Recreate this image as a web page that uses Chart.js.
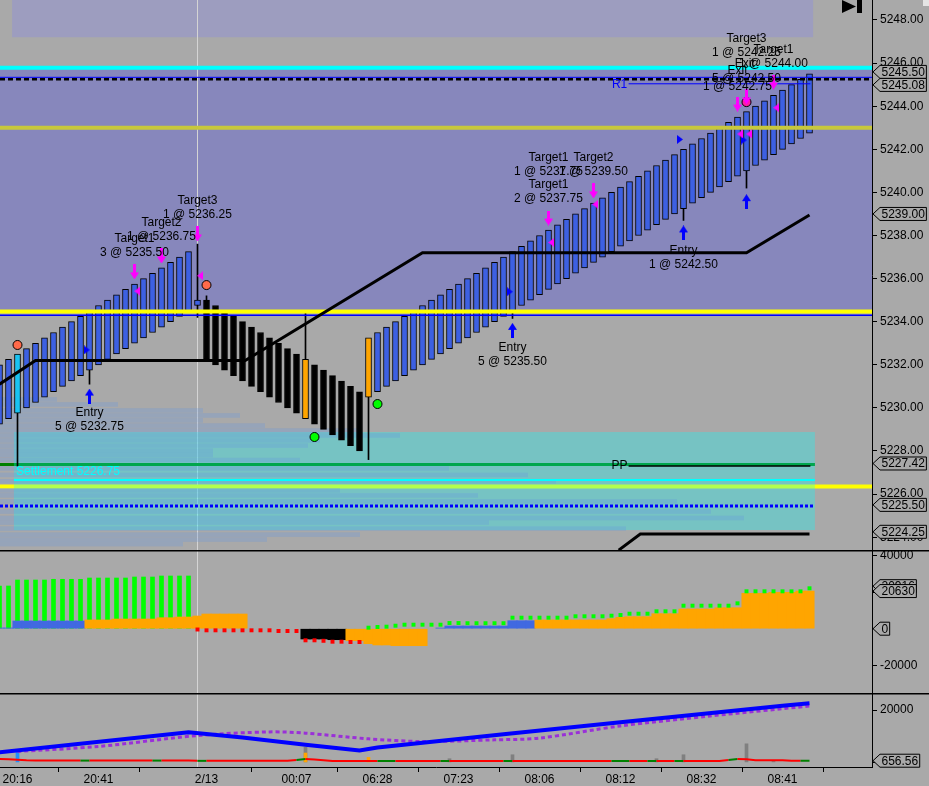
<!DOCTYPE html>
<html>
<head>
<meta charset="utf-8">
<script src="https://cdn.jsdelivr.net/npm/chart.js@4.4.1/dist/chart.umd.min.js"></script>
<style>
  html, body { margin: 0; padding: 0; background: #a9a9a9; }
  #wrap { position: relative; width: 929px; height: 786px; overflow: hidden; }
  canvas { position: absolute; left: 0; }
</style>
</head>
<body>
<div id="wrap">
  <canvas id="price" width="929" height="550" style="top:0"></canvas>
  <canvas id="osc" width="929" height="147" style="top:546px"></canvas>
  <canvas id="lower" width="929" height="93" style="top:693px"></canvas>
</div>
<script>
// bar -1 is the one cut off at the left edge
const firstBar = -1;

// body top / bottom of each bar
const barTop = [
  5232.00, 5232.25, 5232.50, 5232.75, 5233.00, 5233.25, 5233.50, 5233.75, 5234.00, 5234.25, 5234.50,
  5234.75, 5235.00, 5235.25, 5235.50, 5235.75, 5236.00, 5236.25, 5236.50, 5236.75, 5237.00, 5237.25,
  5235.00,
  5235.00, 5234.75, 5234.50, 5234.25, 5234.00, 5233.75, 5233.50, 5233.25, 5233.00, 5232.75, 5232.50,
  5232.25, 5232.00, 5231.75, 5231.50, 5231.25, 5231.00, 5230.75,
  5233.25, 5233.50, 5233.75, 5234.00, 5234.25, 5234.50, 5234.75, 5235.00, 5235.25, 5235.50,
  5235.75, 5236.00, 5236.25, 5236.50, 5236.75, 5237.00, 5237.25, 5237.50, 5237.75, 5238.00,
  5238.25, 5238.50, 5238.75, 5239.00, 5239.25, 5239.50, 5239.75, 5240.00, 5240.25, 5240.50,
  5240.75, 5241.00, 5241.25, 5241.50, 5241.75, 5242.00, 5242.25, 5242.50, 5242.75, 5243.00,
  5243.25, 5243.50, 5243.75, 5244.00, 5244.25, 5244.50, 5244.75, 5245.00, 5245.25, 5245.50
];
const barBottom = [
  5229.25, 5229.50, 5229.75, 5230.00, 5230.25, 5230.50, 5230.75, 5231.00, 5231.25, 5231.50, 5231.75,
  5232.00, 5232.25, 5232.50, 5232.75, 5233.00, 5233.25, 5233.50, 5233.75, 5234.00, 5234.25, 5234.50,
  5234.75,
  5232.25, 5232.00, 5231.75, 5231.50, 5231.25, 5231.00, 5230.75, 5230.50, 5230.25, 5230.00, 5229.75,
  5229.50, 5229.25, 5229.00, 5228.75, 5228.50, 5228.25, 5228.00,
  5230.50, 5230.75, 5231.00, 5231.25, 5231.50, 5231.75, 5232.00, 5232.25, 5232.50, 5232.75,
  5233.00, 5233.25, 5233.50, 5233.75, 5234.00, 5234.25, 5234.50, 5234.75, 5235.00, 5235.25,
  5235.50, 5235.75, 5236.00, 5236.25, 5236.50, 5236.75, 5237.00, 5237.25, 5237.50, 5237.75,
  5238.00, 5238.25, 5238.50, 5238.75, 5239.00, 5239.25, 5239.50, 5239.75, 5240.00, 5240.25,
  5240.50, 5240.75, 5241.00, 5241.25, 5241.50, 5241.75, 5242.00, 5242.25, 5242.50, 5242.75
];
// u = up, c = cyan, d = down, o = orange
const barKind = 'uuc uuuuuuuuuu uuuuuuuuuu ddddddddddd o dddddd o uuuuuuuuuu uuuuuuuuuu uuuuuuuuuu uuuuuuuuuu uuuuuuuuu'
  .replace(/ /g, '').split('');

const wickBars = [1, 9, 21, 22, 33, 40, 56, 75, 82];
const wickLow  = [5227.30, 5231.10, 5234.20, 5235.00, 5232.25, 5227.60, 5234.15, 5238.70, 5240.20];
const wickHigh = [5229.75, 5231.75, 5237.60, 5235.20, 5234.50, 5230.50, 5234.50, 5239.25, 5241.00];

// trailing stop line
const trailBars   = [-1, 3, 26.3, 46, 82, 89];
const trailPrices = [5231.10, 5232.20, 5232.20, 5237.20, 5237.20, 5238.95];
const lowLineBars   = [67.8, 70.2, 89];
const lowLinePrices = [5223.40, 5224.15, 5224.15];

// trade markers
const redDotBars = [1, 22], redDotPrices = [5232.92, 5235.70];
const greenDotBars = [34, 41], greenDotPrices = [5228.65, 5230.18];
const pinkDotBars = [82], pinkDotPrices = [5244.19];
const exitArrowBars   = [14, 17, 21, 60, 65, 81, 82, 85];
const exitArrowPrices = [5236.31, 5237.05, 5238.07, 5238.81, 5240.07, 5244.10, 5244.43, 5245.12];
const exitTickBars    = [14.3, 21.3, 60.3, 65.2, 81.3, 82.3, 85.3];
const exitTickPrices  = [5235.42, 5236.13, 5237.68, 5239.45, 5242.71, 5242.71, 5243.93];
const entryTickBars   = [8.7, 55.7, 74.6, 81.7];
const entryTickPrices = [5232.69, 5235.39, 5242.46, 5242.43];
const entryArrowBars  = [9, 56, 75, 82];
const entryArrowPrices = [5230.55, 5233.60, 5238.12, 5239.57];

const noteBars = [9, 9, 14, 14, 17, 17, 21, 21, 56, 56, 60, 60, 65, 65, 60, 60, 75, 75, 82, 82, 85, 85, 81.8, 81, 82, 81];
const notePrices = [5229.76, 5229.11, 5237.84, 5237.19, 5238.58, 5237.93, 5239.60, 5238.95, 5232.78, 5232.13,
  5241.60, 5240.95, 5241.60, 5240.95, 5240.34, 5239.69, 5237.28, 5236.63, 5247.12, 5246.47,
  5246.61, 5245.96, 5245.96, 5245.63, 5245.26, 5244.89];
const noteTexts = ['Entry', '5 @ 5232.75', 'Target1', '3 @ 5235.50', 'Target2', '1 @ 5236.75', 'Target3', '1 @ 5236.25',
  'Entry', '5 @ 5235.50', 'Target1', '1 @ 5237.75', 'Target2', '1 @ 5239.50', 'Target1', '2 @ 5237.75',
  'Entry', '1 @ 5242.50', 'Target3', '1 @ 5242.25', 'Target1', '1 @ 5244.00', 'Exit', 'Exit', '5 @ 5242.50', '1 @ 5242.75'];

// levels
const zoneHigh = 5245.78, zoneLow = 5234.47;
const topBoxLow = 5247.20;
const upperLevels = [5245.78, 5245.34, 5245.25, 5243.00, 5234.47, 5234.30];
const lowerLevels = [5227.37, 5226.65, 5226.35, 5225.45];
const pivotR1 = 5245.04, pivotPP = 5227.30, settlement = 5226.75;
const valueAreaHigh = 5228.88, valueAreaLow = 5224.33;

// volume profile rows
const vpPrice = [5230.39, 5230.16, 5229.88, 5229.65, 5229.42, 5229.18, 5228.95, 5228.72, 5228.49, 5228.25,
  5228.02, 5227.81, 5227.58, 5227.19, 5226.89, 5226.59, 5226.17, 5225.94, 5225.66, 5225.19,
  5224.89, 5224.68, 5224.40, 5224.12, 5223.89, 5223.68];
const vpVolume = [57, 118, 203, 240, 203, 265, 357, 400, 320, 308,
  213, 213, 300, 449, 528, 556, 340, 478, 677, 711,
  744, 489, 626, 360, 267, 183];

const priceTicks = [5224, 5226, 5228, 5230, 5232, 5234, 5236, 5238, 5240, 5242, 5244, 5246, 5248];
const priceMarks = [5245.50, 5245.08, 5239.00, 5227.42, 5225.50, 5224.25];

// oscillator panel
const fillValues = [
  400, 400, 4220, 4220, 4220, 4220, 4220, 4220, 4220, 4220,
  4770, 4770, 4770, 5300, 5300, 5300, 5300, 5300, 6030, 6030, 6410, 6410, 6960, 8050, 8050, 8050, 8050, 8050,
  null, null, null, null, null, null,
  -5640, -5640, -5640, -6030, -6030,
  -6580, -6580, -8220, -8930, -8930, -9320, -9320, -9320, -9320,
  null,
  380, 1480, 1480, 1480, 1480, 1480, 1480, 1480, 4380, 4380, 4380,
  4770, 4770, 4770, 4770, 4770, 4770, 4770, 4770, 5480, 6250, 6580, 6580, 6580, 8220, 8220, 8220,
  10790, 10790, 10790, 10790, 11500, 11500, 11500, 19400, 19400, 19400, 19950, 19950, 19950, 20630, 20630
];
const fillKind = 'bbbbbbbbbb oooooooooo oooooooo ------ kkkkk ooooooooo - bbbbbbbbbb b oooooooooo oooooooooo oooooooooo o'
  .replace(/ /g, '').split('');
const histValues = [23400, 23400, 26680, 26680, 26680, 26680, 27070, 27070, 27070, 27070,
  27780, 27780, 27780, 27780, 27780, 28330, 28330, 28330, 28880, 28880, 28880, 28880];
const dotValues = [
  null, null, null, null, null, null, null, null, null, null, null,
  null, null, null, null, null, null, null, null, null, null, null,
  -440, -880, -880, -880, -880, -880, -880, -880, -880, -1260, -1260, -1260,
  -6360, -6360, -6630, -7120, -7120, -7290, -7290,
  550, 930, 1100, 1640, 2190, 2190, 2190, 2190, 2190,
  3100, 3100, 3000, 3000, 3000, 3000, 3000,
  6030, 6030, 6030, 6030, 6030, 6030, 6030, 6800, 6800, 6800, 6800, 7120, 7500,
  8220, 8220, 8220, 9530, 9530, 9530, 12600, 12600, 12600, 12600, 12600, 12600, 13900,
  20490, 20490, 20490, 20490, 20490, 20490, 20490, 22140
];
const oscTicks = [40000, 20000, 0, -20000];
const oscMarks = [23300, 20630, 0];
const oscMarkTexts = ['20916', '20630', '0'];

// lower panel
const blueBars = [-1, 20, 26, 33, 39, 41, 55, 68, 86, 89];
const blueValues = [3900, 11540, 9490, 6720, 4560, 5700, 10780, 15330, 21630, 22540];
const purpleBars = [1, 10, 21, 29, 33, 40, 46, 54, 59, 68, 78, 89];
const purpleValues = [4180, 6080, 10250, 11650, 11160, 9000, 7980, 8620, 9270, 13930, 17720, 21520];
const redLine = [
  1300, 1200, 1000, 800,
  700, 700, 700, 700, 700, 700, 700, 700, 700, 700, 700, 700, 700, 700, 700, 700, 700, 700,
  600, 600, 600, 600, 600, 600, 600, 600, 600, 600, 600,
  900, 1300, 1100, 800,
  550, 550, 550, 550, 550, 550, 550, 550, 550, 550, 550, 550, 550, 550, 550, 550, 550, 550, 550, 550, 550, 550,
  550, 550, 550, 550, 550, 550, 550, 550, 550, 550, 550, 550, 550, 550, 550, 550, 550, 550, 550, 550, 550, 550,
  900, 1300, 1200, 800, 800, 800, 800,
  656, 656, 656.56
];
const redGreenBars = [8, 16, 21, 32, 41, 42, 48, 55, 67, 68, 71, 74, 80, 88];
const spikeBars = [1, 33, 33, 40, 49, 56, 72, 75, 82, 85];
const spikeValues = [3800, 5850, 3580, 1900, 1410, 2930, 1410, 2930, 7100, 770];
const spikeKind = ['b', 'g', 'o', 'o', 'g', 'g', 'g', 'g', 'g', 'g'];
const lowTicks = [20000, 0];
const lowMarks = [656.56];

const timeTickBars = [1, 10, 19, 22, 32, 41, 50, 59, 68, 77, 86];
const timeTickLabels = ['20:16', '20:41', '', '2/13', '00:07', '06:28', '07:23', '08:06', '08:12', '08:32', '08:41'];
const sessionBreak = 20.95;

// ---------------------------------------------------------------
const FONT = '12px "Liberation Sans", Arial, sans-serif';
Chart.defaults.font.family = '"Liberation Sans", Arial, sans-serif';
Chart.defaults.font.size = 12;
Chart.defaults.color = '#000';

const xMin = -8.5 / 9, xMax = (872 - 8.5) / 9;
const kindColor = { u: '#3d60e2', c: '#19c3f2', d: '#000000', o: '#ffa500' };
const fillColor = { b: '#4169e1', o: '#ffa500', k: '#000000', '-': 'rgba(0,0,0,0)' };
const spikeColor = { b: '#1e90ff', g: '#808080', o: '#ffa500' };

function yAxis(min, max, ticks, fmt) {
  return {
    position: 'right', min: min, max: max,
    afterFit: s => { s.width = 57; s.paddingTop = 0; s.paddingBottom = 0; },
    afterBuildTicks: s => { s.ticks = ticks.map(v => ({ value: v })); },
    grid: { drawOnChartArea: false, drawTicks: true, tickLength: 5, color: '#000' },
    border: { display: true, color: '#000', width: 1 },
    ticks: { color: '#000', padding: 3, font: { size: 12 }, callback: fmt }
  };
}
const xHidden = { type: 'linear', min: xMin, max: xMax, offset: false, display: false };
function baseOptions(padTop) {
  return {
    responsive: false, animation: false, devicePixelRatio: 1, events: [],
    layout: { padding: { top: padTop, left: 0, right: 0, bottom: 0 }, autoPadding: false },
    plugins: { legend: { display: false }, tooltip: { enabled: false } }
  };
}

function hline(ctx, yp, x0, x1, s) {
  ctx.save();
  ctx.strokeStyle = s.color;
  ctx.lineWidth = s.width;
  ctx.setLineDash(s.dash || []);
  ctx.beginPath();
  ctx.moveTo(x0, yp);
  ctx.lineTo(x1, yp);
  ctx.stroke();
  ctx.restore();
}

function sessionLine(chart) {
  const { ctx, chartArea: a, scales: { x } } = chart;
  const xp = Math.round(x.getPixelForValue(sessionBreak)) + 0.5;
  ctx.save();
  ctx.strokeStyle = '#d4d4d4';
  ctx.lineWidth = 1;
  ctx.beginPath();
  ctx.moveTo(xp, a.top);
  ctx.lineTo(xp, a.bottom);
  ctx.stroke();
  ctx.restore();
}

function markBox(ctx, tip, yp, text) {
  ctx.save();
  ctx.font = FONT;
  const w = ctx.measureText(text).width;
  const x1 = tip + 7, x2 = x1 + w + 3, h = 6.5;
  ctx.beginPath();
  ctx.moveTo(tip, yp);
  ctx.lineTo(x1, yp - h);
  ctx.lineTo(x2, yp - h);
  ctx.lineTo(x2, yp + h);
  ctx.lineTo(x1, yp + h);
  ctx.closePath();
  ctx.fillStyle = '#a9a9a9';
  ctx.fill();
  ctx.strokeStyle = '#000';
  ctx.lineWidth = 1;
  ctx.stroke();
  ctx.fillStyle = '#000';
  ctx.textAlign = 'left';
  ctx.textBaseline = 'middle';
  ctx.fillText(text, x1 + 1.5, yp + 0.5);
  ctx.restore();
}

function topRule(chart) {
  const ctx = chart.ctx, yp = chart.chartArea.top + 0.75;
  ctx.save();
  ctx.strokeStyle = '#000';
  ctx.lineWidth = 1.5;
  ctx.beginPath();
  ctx.moveTo(0, yp);
  ctx.lineTo(chart.width, yp);
  ctx.stroke();
  ctx.restore();
}

// marker shapes
function makeArrow(color, down) {
  const c = document.createElement('canvas');
  c.width = 9; c.height = 15;
  const g = c.getContext('2d');
  g.fillStyle = color;
  if (down) { g.translate(0, 15); g.scale(1, -1); }
  g.beginPath();
  g.moveTo(4.5, 0); g.lineTo(9, 7); g.lineTo(6, 7); g.lineTo(6, 15);
  g.lineTo(3, 15); g.lineTo(3, 7); g.lineTo(0, 7);
  g.closePath();
  g.fill();
  return c;
}
function makeTri(color, left) {
  const c = document.createElement('canvas');
  c.width = 6; c.height = 9;
  const g = c.getContext('2d');
  g.fillStyle = color;
  g.beginPath();
  if (left) { g.moveTo(0, 4.5); g.lineTo(6, 0); g.lineTo(6, 9); }
  else { g.moveTo(6, 4.5); g.lineTo(0, 0); g.lineTo(0, 9); }
  g.closePath();
  g.fill();
  return c;
}
const arrowDown = makeArrow('#ff00ff', true);
const arrowUp = makeArrow('#0000ff', false);
const triLeft = makeTri('#ff00ff', true);
const triRight = makeTri('#0000ff', false);

function pts(xs, ys) { return xs.map((v, j) => ({ x: v, y: ys[j] })); }
function markerSet(xs, ys, style, extra) {
  return Object.assign({
    type: 'line', data: pts(xs, ys), showLine: false,
    pointStyle: style, pointRadius: 5, order: 1
  }, extra || {});
}

// ---------------- price panel ----------------
const upperStyles = [
  { color: '#00ffff', width: 4 },
  { color: '#0000ff', width: 1 },
  { color: '#000000', width: 2.5, dash: [5, 3] },
  { color: '#c8c83c', width: 4 },
  { color: '#ffff00', width: 4 },
  { color: '#0000ff', width: 1.5 }
];
const lowerStyles = [
  { color: '#008000', width: 3, to: 89.6 },
  { color: '#00ffff', width: 2, from: 0.6, to: 89.6, late: true },
  { color: '#ffff00', width: 4 },
  { color: '#0000ff', width: 3, dash: [3, 2], to: 89.6, late: true }
];

const priceDeco = {
  id: 'priceDeco',
  beforeDatasetsDraw(chart) {
    const { ctx, chartArea: a, scales: { x, y } } = chart;
    const px = v => x.getPixelForValue(v), py = v => y.getPixelForValue(v);
    ctx.save();
    ctx.fillStyle = '#9d9dbf';
    ctx.fillRect(px(0.4), a.top, px(89.4) - px(0.4), py(topBoxLow) - a.top);
    ctx.fillStyle = '#8787bc';
    ctx.fillRect(a.left, py(zoneHigh), a.right - a.left, py(zoneLow) - py(zoneHigh));
    sessionLine(chart);
    const drawLower = late => lowerLevels.forEach((v, j) => {
      const s = lowerStyles[j];
      if (!!s.late !== late) return;
      hline(ctx, py(v), s.from == null ? a.left : px(s.from), s.to == null ? a.right : px(s.to), s);
    });
    drawLower(false);
    ctx.fillStyle = 'rgba(0,255,255,0.30)';
    ctx.fillRect(px(0.6), py(valueAreaHigh), px(89.6) - px(0.6), py(valueAreaLow) - py(valueAreaHigh));
    ctx.fillStyle = 'rgba(100,150,225,0.28)';
    vpPrice.forEach((p, j) => ctx.fillRect(a.left, py(p) - 2.3, vpVolume[j], 4.6));
    drawLower(true);
    hline(ctx, py(pivotPP), px(68.9), px(89.1), { color: '#000', width: 1.5 });
    ctx.restore();
  },
  afterDatasetDraw(chart, args) {
    if (chart.data.datasets[args.index].label !== 'bodies') return;
    const { ctx, chartArea: a, scales: { x, y } } = chart;
    upperLevels.forEach((v, j) => hline(ctx, y.getPixelForValue(v), a.left, a.right, upperStyles[j]));
    hline(ctx, y.getPixelForValue(pivotR1), x.getPixelForValue(68.9), x.getPixelForValue(89.1), { color: '#0000ff', width: 1 });
  },
  afterDatasetsDraw(chart) {
    const { ctx, scales: { x, y } } = chart;
    ctx.save();
    ctx.font = FONT;
    ctx.textAlign = 'center';
    ctx.textBaseline = 'middle';
    ctx.fillStyle = '#000';
    noteTexts.forEach((t, j) => ctx.fillText(t, x.getPixelForValue(noteBars[j]), y.getPixelForValue(notePrices[j])));
    ctx.fillText('PP', x.getPixelForValue(67.9), y.getPixelForValue(pivotPP));
    ctx.fillStyle = '#0000ff';
    ctx.fillText('R1', x.getPixelForValue(67.9), y.getPixelForValue(pivotR1) + 1);
    ctx.fillStyle = '#00ffff';
    ctx.textAlign = 'left';
    ctx.fillText('Settlement ' + settlement.toFixed(2), x.getPixelForValue(0.83), y.getPixelForValue(5227.03));
    ctx.restore();
  },
  afterDraw(chart) {
    const { ctx, chartArea: a, scales: { y } } = chart;
    const marks = priceMarks.map(v => ({ v: v, p: y.getPixelForValue(v) })).sort((m, n) => m.p - n.p);
    for (let j = 1; j < marks.length; j++) {
      const gap = marks[j].p - marks[j - 1].p;
      if (gap < 13) { const d = (13 - gap) / 2; marks[j - 1].p -= d; marks[j].p += d; }
    }
    marks.forEach(m => markBox(ctx, a.right + 1, m.p, m.v.toFixed(2)));
    ctx.save();
    ctx.fillStyle = '#000';
    ctx.beginPath();
    ctx.moveTo(842, 0); ctx.lineTo(856, 6.5); ctx.lineTo(842, 13); ctx.closePath();
    ctx.fill();
    ctx.fillRect(857, 0, 5, 13);
    ctx.fillStyle = '#e4e4e4';
    ctx.fillRect(923, 0, 6, 6);
    ctx.restore();
  }
};

new Chart(document.getElementById('price'), {
  type: 'bar',
  data: {
    datasets: [
      {
        label: 'wicks', type: 'bar', data: wickBars.map((b, j) => ({ x: b, y: [wickLow[j], wickHigh[j]] })),
        backgroundColor: '#000', borderWidth: 0, barThickness: 1, grouped: false, order: 20
      },
      {
        label: 'bodies', type: 'bar',
        data: barTop.map((t, k) => ({ x: firstBar + k, y: [barBottom[k], t] })),
        backgroundColor: barKind.map(c => kindColor[c]), borderColor: '#000', borderWidth: 1,
        borderSkipped: false, barThickness: 6, grouped: false, order: 19
      },
      {
        label: 'trail', type: 'line', data: pts(trailBars, trailPrices),
        borderColor: '#000', borderWidth: 3, pointRadius: 0, tension: 0, order: 8
      },
      {
        label: 'trail2', type: 'line', data: pts(lowLineBars, lowLinePrices),
        borderColor: '#000', borderWidth: 3, pointRadius: 0, tension: 0, order: 8
      },
      markerSet(exitTickBars, exitTickPrices, triLeft),
      markerSet(entryTickBars, entryTickPrices, triRight),
      markerSet(exitArrowBars, exitArrowPrices, arrowDown),
      markerSet(entryArrowBars, entryArrowPrices, arrowUp),
      markerSet(redDotBars, redDotPrices, 'circle', { pointRadius: 4.5, pointBackgroundColor: '#ff6a4a', pointBorderColor: '#000', pointBorderWidth: 1 }),
      markerSet(greenDotBars, greenDotPrices, 'circle', { pointRadius: 4.5, pointBackgroundColor: '#00ff00', pointBorderColor: '#000', pointBorderWidth: 1 }),
      markerSet(pinkDotBars, pinkDotPrices, 'circle', { pointRadius: 4.5, pointBackgroundColor: '#ff1aa8', pointBorderColor: '#000', pointBorderWidth: 1 })
    ]
  },
  options: Object.assign(baseOptions(0), {
    scales: {
      x: xHidden,
      y: yAxis(5248.928 - 550 / 21.55, 5248.928, priceTicks, v => v.toFixed(2))
    }
  }),
  plugins: [priceDeco]
});

// ---------------- oscillator panel ----------------
new Chart(document.getElementById('osc'), {
  type: 'bar',
  data: {
    datasets: [
      {
        type: 'bar', data: histValues.map((v, k) => ({ x: firstBar + k, y: v })),
        backgroundColor: '#00ff00', borderWidth: 0, barThickness: 4, grouped: false, order: 4
      },
      {
        type: 'bar', data: fillValues.map((v, k) => ({ x: firstBar + k, y: v })),
        backgroundColor: fillKind.map(c => fillColor[c]), borderWidth: 0, barThickness: 9.4, grouped: false, order: 3
      },
      {
        type: 'line', data: dotValues.map((v, k) => ({ x: firstBar + k, y: v })), showLine: false,
        pointStyle: 'rect', pointRadius: 2.8, pointBorderWidth: 0,
        pointBackgroundColor: dotValues.map(v => (v != null && v < 0) ? '#ff0000' : '#00ff00'), order: 1
      }
    ]
  },
  options: Object.assign(baseOptions(4), {
    scales: {
      x: xHidden,
      y: yAxis(-35233, 43123, oscTicks, v => String(v))
    }
  }),
  plugins: [{
    id: 'oscDeco',
    beforeDatasetsDraw(chart) { sessionLine(chart); },
    afterDraw(chart) {
      topRule(chart);
      const { chartArea: a, scales: { y } } = chart;
      oscMarks.forEach((v, j) => markBox(chart.ctx, a.right + 1, y.getPixelForValue(v), oscMarkTexts[j]));
    }
  }]
});

// ---------------- lower panel ----------------
new Chart(document.getElementById('lower'), {
  type: 'bar',
  data: {
    datasets: [
      {
        type: 'bar', data: pts(spikeBars, spikeValues),
        backgroundColor: spikeKind.map(c => spikeColor[c]), borderWidth: 0, barThickness: 3, grouped: false, order: 5
      },
      {
        type: 'line', data: redLine.map((v, k) => ({ x: firstBar + k, y: v })),
        borderWidth: 2, pointRadius: 0, tension: 0, borderColor: '#ff0000',
        segment: { borderColor: c => redGreenBars.includes(c.p0.parsed.x) ? '#008000' : '#ff0000' },
        order: 4
      },
      {
        type: 'line', data: pts(purpleBars, purpleValues),
        borderColor: '#9a30d8', borderWidth: 3, borderDash: [4, 3], pointRadius: 0, tension: 0.3, order: 3
      },
      {
        type: 'line', data: pts(blueBars, blueValues),
        borderColor: '#0000ff', borderWidth: 4, pointRadius: 0, tension: 0, order: 2
      }
    ]
  },
  options: Object.assign(baseOptions(0), {
    scales: {
      x: {
        type: 'linear', min: xMin, max: xMax, offset: false, position: 'bottom',
        afterFit: s => { s.height = 19; s.paddingLeft = 0; s.paddingRight = 0; },
        afterBuildTicks: s => { s.ticks = timeTickBars.map(v => ({ value: v })); },
        grid: {
          drawOnChartArea: false, drawTicks: true, tickLength: 5,
          color: c => timeTickLabels[c.index] === '2/13' ? 'rgba(0,0,0,0)' : '#000'
        },
        border: { display: true, color: '#000', width: 1 },
        ticks: { autoSkip: false, maxRotation: 0, padding: 0, color: '#000', font: { size: 12 },
          callback: (v, idx) => timeTickLabels[idx] }
      },
      y: yAxis(-1745, 26486, lowTicks, v => String(v))
    }
  }),
  plugins: [{
    id: 'lowDeco',
    beforeDatasetsDraw(chart) { sessionLine(chart); },
    afterDraw(chart) {
      topRule(chart);
      const { chartArea: a, scales: { y } } = chart;
      lowMarks.forEach(v => markBox(chart.ctx, a.right + 1, y.getPixelForValue(v), v.toFixed(2)));
    }
  }]
});
</script>
</body>
</html>
